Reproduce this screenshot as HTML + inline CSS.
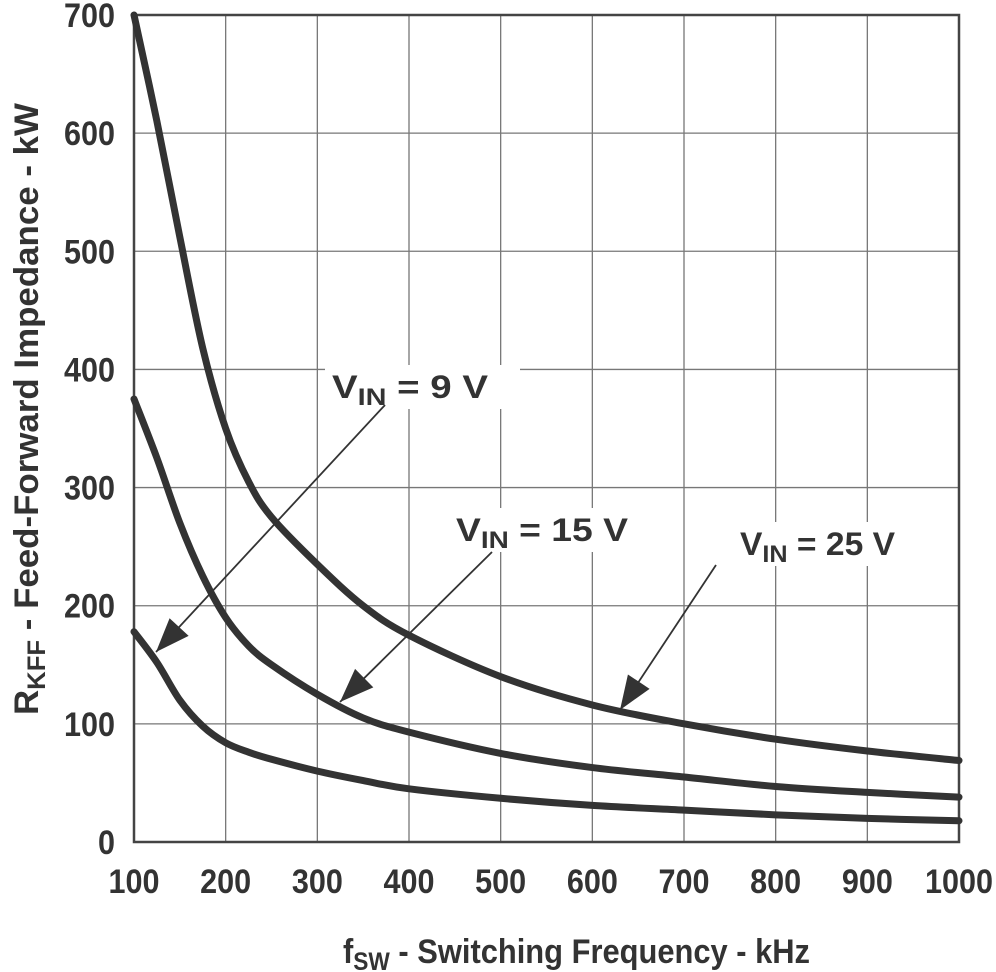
<!DOCTYPE html>
<html><head><meta charset="utf-8"><style>
body{margin:0;background:#fff}
svg{display:block;font-family:"Liberation Sans",sans-serif;font-weight:bold;fill:#333}
</style></head><body>
<svg id="chart" width="996" height="972" viewBox="0 0 996 972" xmlns="http://www.w3.org/2000/svg">
<g id="grid"></g>
<g id="curves"></g>
<g id="ticks"></g>
<text x="343" y="963" font-size="34" textLength="467" lengthAdjust="spacingAndGlyphs">f<tspan font-size="25" dy="7">SW</tspan><tspan dy="-7"> - Switching Frequency - kHz</tspan></text>
<text transform="translate(38,715) rotate(-90)" font-size="34" textLength="612" lengthAdjust="spacingAndGlyphs">R<tspan font-size="25" dy="7">KFF</tspan><tspan dy="-7"> - Feed-Forward Impedance - kW</tspan></text>
<g id="ann"></g>
</svg>
<script>
const xTicks=[100,200,300,400,500,600,700,800,900,1000];
const yTicks=[0,100,200,300,400,500,600,700];
const freq=[100,125,150,175,200,225,250,300,350,400,500,600,700,800,900,1000];
const r25=[700,610,512,418,350,305,275,235,200,175,140,116,100,87,77,69];
const r15=[375,325,270,225,190,166,150,125,105,93,75,63,55,47,42,38];
const r9=[178,152,120,98,84,76,70,60,52,45,37,31,27,23,20,18];
const L=134,R=959,T=15,B=842;
const sx=v=>L+(v-100)/900*(R-L);
const sy=v=>B-v/700*(B-T);
const NS='http://www.w3.org/2000/svg';
function mk(tag,attrs,parent){const e=document.createElementNS(NS,tag);for(const k in attrs)e.setAttribute(k,attrs[k]);parent.appendChild(e);return e;}
const grid=document.getElementById('grid');
xTicks.forEach(t=>{const l=mk('line',{x1:sx(t),x2:sx(t),y1:T,y2:B,stroke:'#777','stroke-width':1.3},grid);

});
yTicks.forEach(t=>{const l=mk('line',{x1:L,x2:R,y1:sy(t),y2:sy(t),stroke:'#777','stroke-width':1.3},grid);

});
const fr=mk('rect',{x:L,y:T,width:R-L,height:B-T,fill:'none',stroke:'#444','stroke-width':2.5},grid);


const tk=document.getElementById('ticks');
xTicks.forEach(t=>{const s=String(t);const e=mk('text',{x:sx(t),y:893,'text-anchor':'middle','font-size':34,textLength:s.length*17,lengthAdjust:'spacingAndGlyphs'},tk);e.textContent=s;

});
yTicks.forEach(t=>{const s=String(t);const e=mk('text',{x:115,y:sy(t)+12,'text-anchor':'end','font-size':34,textLength:s.length*17,lengthAdjust:'spacingAndGlyphs'},tk);e.textContent=s;

});
const cv=document.getElementById('curves');
[[r25,'curve-vin-25v'],[r15,'curve-vin-15v'],[r9,'curve-vin-9v']].forEach(([arr,n])=>{
const pts=freq.map((f,i)=>[sx(f),sy(arr[i])]);
let d='M'+pts[0].join(',');
for(let i=0;i<pts.length-1;i++){const p0=pts[Math.max(0,i-1)],p1=pts[i],p2=pts[i+1],p3=pts[Math.min(pts.length-1,i+2)];
const c1=[p1[0]+(p2[0]-p0[0])/6,p1[1]+(p2[1]-p0[1])/6],c2=[p2[0]-(p3[0]-p1[0])/6,p2[1]-(p3[1]-p1[1])/6];
d+=' C'+c1.join(',')+' '+c2.join(',')+' '+p2.join(',');}
const p=mk('path',{d:d,fill:'none',stroke:'#333','stroke-width':7,'stroke-linecap':'round','stroke-linejoin':'round'},cv);

});
const an=document.getElementById('ann');
function label(x,y,w,tx,tw,num,n,ax1,ay1,ax2,ay2){
const bg=mk('rect',{x:x,y:y,width:w,height:44,fill:'#fff'},an);


const ln=mk('line',{x1:ax1,y1:ay1,x2:ax2,y2:ay2,stroke:'#333','stroke-width':1.8},an);


const a=Math.atan2(ay2-ay1,ax2-ax1),len=34,hw=13;
const bx=ax2-len*Math.cos(a),by=ay2-len*Math.sin(a);
const hd=mk('polygon',{points:`${ax2},${ay2} ${bx+hw*Math.sin(a)},${by-hw*Math.cos(a)} ${bx-hw*Math.sin(a)},${by+hw*Math.cos(a)}`,fill:'#333'},an);


const t=mk('text',{x:tx,y:y+33,'font-size':32,textLength:tw,lengthAdjust:'spacingAndGlyphs'},an);
t.innerHTML='V<tspan font-size="24" dy="7">IN</tspan><tspan dy="-7"> = '+num+' V</tspan>';

}
label(325,365,195,332,156,'9','label-vin-9v',385,405,156,652);
label(450,508,192,456,172,'15','label-vin-15v',492,552,340,702);
label(720,522,195,740,155,'25','label-vin-25v',716,565,620,710);
</script>
</body></html>
